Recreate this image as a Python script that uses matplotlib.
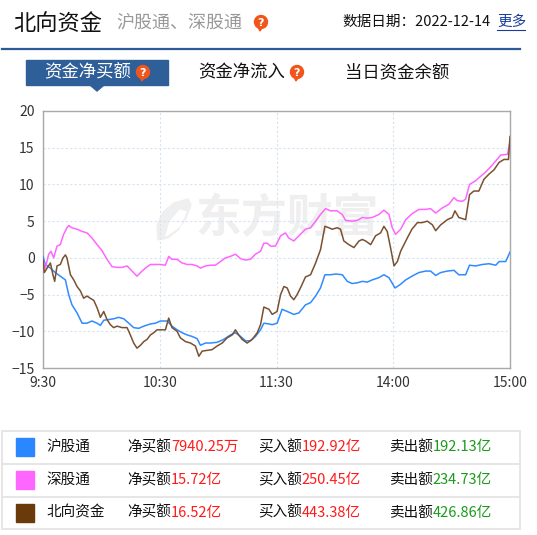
import matplotlib
matplotlib.use("Agg")
import matplotlib.pyplot as plt
from matplotlib.patches import Rectangle, Circle, Polygon

plt.rcParams['font.family'] = ['Noto Sans CJK SC', 'DejaVu Sans']

# 分钟数（从 9:30 起的交易分钟）和净买额（亿元）
hgt_t = [0, 1.2, 3.8, 6.3, 8.9, 11.5, 13.2, 14.9, 17.5, 20.1, 22.6, 25.2, 27.8, 29.5, 31.2, 33.8,
         36.3, 38.9, 41.5, 44.1, 46.6, 49.2, 51.8, 55.2, 57.8, 60.3, 63.8, 66.3, 68.9, 71.5, 74.1,
         76.6, 79.2, 80.9, 83.5, 86.1, 89.5, 92.9, 96.3, 98.9, 101.5, 104.1, 106.6, 109.2, 111.8,
         113.5, 116.1, 117.8, 120.3, 122.9, 125.5, 128.9, 131.5, 134.9, 137.5, 140.1, 142.6, 144.9,
         147.8, 150.4, 153.8, 156.4, 158.9, 161.5, 164.1, 166.6, 169.2, 172.6, 175.2, 177.8, 180.9,
         183.8, 186.4, 189.6, 193.2, 196.6, 199.2, 201.8, 204.4, 207.8, 211.2, 213.7, 217.2, 219.2,
         222.3, 225.8, 229.2, 232.7, 234.4, 237.8, 240]
hgt_v = [0.2, -0.9, -1.4, -2.0, -2.5, -3.0, -5.0, -6.4, -7.5, -8.9, -8.9, -8.6, -8.9, -9.2, -8.5, -8.4,
         -8.3, -8.1, -8.3, -8.9, -9.5, -9.6, -9.3, -9.0, -8.9, -8.6, -8.6, -9.3, -9.8, -10.2, -10.5,
         -10.7, -11.0, -11.9, -11.6, -11.6, -11.5, -11.1, -10.5, -10.2, -10.7, -11.3, -11.3, -10.7, -9.8,
         -8.9, -9.0, -9.1, -8.9, -7.0, -7.3, -7.7, -7.5, -6.4, -6.1, -5.2, -4.1, -2.3,
         -2.3, -2.2, -2.3, -3.2, -3.5, -3.4, -3.2, -3.3, -3.0, -2.7, -2.3, -2.7, -4.1,
         -3.6, -3.0, -2.5, -2.0, -1.8, -1.8, -2.4, -2.0, -1.8, -1.7, -2.3, -2.3, -1.0,
         -1.1, -0.9, -0.8, -1.0, -0.5, -0.5, 0.79]

sgt_t = [0, 1.2, 2.9, 4.1, 5.5, 7.2, 8.9, 10.6, 12.3, 13.2, 14.9, 17.5, 20.1, 22.6, 25.2, 27.8, 30.3,
         32.9, 35.5, 38.1, 40.6, 43.2, 45.8, 48.3, 50.1, 52.6, 55.2, 57.8, 60.3, 62.9, 64.6, 66.3,
         68.9, 71.5, 74.1, 76.6, 79.2, 80.9, 83.5, 86.1, 88.6, 91.2, 93.8, 96.3, 98.9, 101.5, 104.1,
         106.6, 109.2, 111.8, 113.5, 115.2, 116.9, 119.5, 122.1, 124.6, 126.3, 128.9, 131.5, 134.9,
         137.5, 140.1, 142.6, 145.2, 147.8, 151.2, 153.8, 155.5, 158.9, 161.5, 164.1, 166.6, 169.2,
         172.6, 175.2, 177.8, 179.5, 181.2, 183.8, 186.4, 189.6, 193.2, 196.6, 199.2, 201.8, 205.2,
         208.6, 211.2, 212.9, 215.5, 217.2, 219.2, 222.3, 224.9, 227.5, 230.1, 232.7, 235.2, 238.7, 240]
sgt_v = [-0.3, -1.4, 0.5, 0.9, 0.0, 1.6, 1.8, 3.2, 4.1, 4.4, 4.1, 3.9, 3.6, 3.4, 2.7, 1.8, 1.0,
         -0.2, -1.2, -1.3, -1.3, -1.1, -1.8, -2.5, -2.0, -1.4, -0.9, -0.9, -0.9, -1.0, 0.2, -0.2,
         -0.2, -0.7, -0.9, -0.9, -1.1, -1.4, -1.1, -1.0, -1.0, -0.5, 0.0, 0.2, 0.5, -0.1, -0.3,
         -0.2, 0.5, 0.9, 2.0, 2.0, 1.6, 1.6, 3.0, 3.4, 2.7, 2.3, 3.0, 3.9,
         4.1, 5.0, 5.9, 6.7, 6.4, 6.4, 5.9, 5.1, 5.0, 5.1, 5.5, 5.4, 5.5,
         5.9, 6.5, 5.9, 4.1, 3.2, 3.9, 5.2, 6.0, 6.6, 6.6, 6.7, 6.1, 6.8,
         7.3, 8.2, 7.8, 7.7, 8.0, 10.0, 10.5, 11.1, 11.7, 12.4, 13.2, 14.0, 14.1, 15.72]

bx_t = [0, 0.7, 2.1, 3.8, 5.1, 6.0, 7.2, 8.9, 10.3, 11.5, 12.3, 14.1, 15.8, 17.5, 19.2, 20.9, 22.6,
        24.3, 26.1, 27.8, 29.5, 31.2, 32.9, 34.6, 36.3, 38.1, 40.6, 43.2, 44.9, 46.6, 48.3, 50.1,
        51.8, 53.5, 55.2, 56.9, 58.6, 60.3, 62.9, 64.6, 66.3, 68.9, 70.6, 73.2, 75.8, 78.3, 80.1,
        81.8, 84.3, 86.9, 89.5, 92.1, 94.6, 97.2, 98.9, 100.6, 102.3, 104.9, 107.5, 110.1, 111.8,
        113.5, 116.1, 117.8, 120.3, 122.1, 123.8, 125.5, 127.2, 128.9, 130.6, 132.3, 134.9, 137.5,
        140.1, 142.6, 144.9, 146.9, 148.6, 151.2, 152.9, 154.6, 157.2, 159.8, 162.4, 164.1, 165.8,
        168.4, 170.9, 173.5, 175.2, 176.9, 178.6, 180.4, 182.1, 183.8, 185.5, 187.2, 189.6, 192.4,
        194.9, 197.5, 200.1, 201.8, 204.4, 207.8, 210.3, 211.7, 213.7, 217.2, 219.2, 221.4, 224.0,
        226.6, 229.2, 231.8, 234.4, 236.9, 239.2, 240]
bx_v = [-0.3, -2.0, -1.4, -0.7, -2.3, -3.2, -1.1, -0.9, 0.0, 0.4, 0.0, -2.3, -3.0, -3.9, -4.5, -5.5, -5.2,
        -5.5, -5.8, -6.8, -8.1, -7.3, -8.4, -9.1, -9.5, -9.3, -9.5, -9.5, -10.5, -11.6, -12.3, -11.9,
        -11.4, -11.1, -10.5, -10.2, -9.8, -9.8, -9.8, -8.2, -9.5, -10.0, -10.9, -11.4, -11.6, -12.0, -13.4,
        -12.7, -12.6, -12.5, -12.0, -11.6, -10.9, -10.5, -9.8, -10.5, -11.1, -11.6, -11.1, -10.2, -9.1,
        -6.7, -7.0, -7.7, -7.3, -5.0, -3.9, -4.1, -5.2, -5.7, -5.0, -4.1, -2.6, -2.3,
        -0.7, 1.1, 4.3, 4.1, 3.9, 4.1, 3.9, 2.3, 1.8, 1.4, 2.3, 2.5, 2.3,
        1.8, 3.0, 3.4, 4.3, 3.6, 1.4, -1.1, -0.5, 0.9, 1.8, 2.7, 3.9, 4.8,
        4.8, 5.0, 4.5, 3.7, 4.5, 5.2, 5.5, 6.4, 5.5, 5.2, 8.6, 9.1, 9.1,
        10.7, 11.4, 12.0, 13.0, 13.4, 13.4, 16.52]

tick_pos = [0, 60, 120, 180, 240]
tick_labels = ['9:30', '10:30', '11:30', '14:00', '15:00']

names = ['沪股通', '深股通', '北向资金']
colors = ['#2a87ff', '#ff66ff', '#6b3a0b']
line_colors = ['#2f8bff', '#ff66ff', '#7a5030']
net_buy = ['7940.25万', '15.72亿', '16.52亿']
buy_in = ['192.92亿', '250.45亿', '443.38亿']
sell_out = ['192.13亿', '234.73亿', '426.86亿']

W, H = 537, 535
fig = plt.figure(figsize=(W / 100, H / 100), dpi=100)

# 背景层，用像素坐标画表头和表格
bg = fig.add_axes([0, 0, 1, 1])
bg.set_xlim(0, W)
bg.set_ylim(H, 0)
bg.axis('off')


def qicon(x, y):
    bg.add_patch(Polygon([[x - 4, y + 3], [x - 1, y + 9], [x + 2, y + 4]], closed=True,
                         color='#f0561c', zorder=3))
    bg.add_patch(Circle((x, y), 6.5, color='#f0561c', zorder=3))
    bg.text(x, y + 0.5, '?', color='white', fontsize=8, fontweight='bold',
            ha='center', va='center', family='DejaVu Sans', zorder=4)


# 标题
bg.text(13, 23, '北向资金', fontsize=16, color='#111111', va='center')
bg.text(116, 23, '沪股通、深股通', fontsize=13, color='#999999', va='center')
qicon(261, 22)
bg.text(342, 22, '数据日期：2022-12-14', fontsize=10.5, color='#111111', va='center')
bg.text(497, 22, '更多', fontsize=10.5, color='#1a3d9c', va='center')
bg.plot([497, 525], [30, 30], color='#1a3d9c', lw=0.8)
bg.plot([2, 520], [49, 49], color='#2c5a98', lw=1.6)

# 标签页
bg.add_patch(Rectangle((26, 60), 142, 25, color='#2f5f98', zorder=2))
bg.add_patch(Polygon([[90, 85], [104, 85], [97, 91]], closed=True, color='#2f5f98', zorder=2))
bg.text(44, 72.5, '资金净买额', fontsize=12.5, color='white', va='center', zorder=3)
qicon(143, 72)
bg.text(198, 72.5, '资金净流入', fontsize=12.5, color='#111111', va='center')
qicon(297, 72)
bg.text(345, 72.5, '当日资金余额', fontsize=12.5, color='#111111', va='center')

# 水印
bg.add_patch(Polygon([[158, 240], [157, 225], [163, 212], [174, 203], [188, 199], [191, 205],
                      [186, 218], [178, 230], [168, 238]], closed=True, color='#efefef', zorder=0))
bg.add_patch(Polygon([[166, 236], [170, 222], [180, 210], [186, 212], [180, 226]], closed=True,
                     color='white', zorder=0))
bg.text(287, 219, '东方财富', fontsize=33, fontweight='bold', color='#efefef',
        ha='center', va='center', zorder=0)

# 图表
left, right, top, bottom = 43, 510, 111, 368
ax = fig.add_axes([left / W, (H - bottom) / H, (right - left) / W, (bottom - top) / H])
ax.set_facecolor('none')

for t, v, c in zip([hgt_t, sgt_t, bx_t], [hgt_v, sgt_v, bx_v], line_colors):
    ax.plot(t, v, color=c, lw=1.1, zorder=3)

ax.set_xlim(0, 240)
ax.set_ylim(-15, 20)
ax.set_yticks(range(-15, 21, 5))
ax.set_xticks(tick_pos)
ax.set_xticklabels(tick_labels)
for y in range(-10, 20, 5):
    ax.axhline(y, color='#d5e3f2', lw=0.8, ls=(0, (2, 2)), zorder=1)
for x in tick_pos[1:-1]:
    ax.axvline(x, color='#d5e3f2', lw=0.8, ls=(0, (2, 2)), zorder=1)
ax.tick_params(length=0, labelsize=10, colors='#333333', pad=6)
for s in ax.spines.values():
    s.set_color('#a8a8a8')
    s.set_linewidth(1)

# 底部表格
bg.add_patch(Rectangle((2, 431), 518, 98, fill=False, ec='#e2e2e2', lw=1.2))
bg.plot([3, 519], [463.5, 463.5], color='#e2e2e2', lw=1.2)
bg.plot([3, 519], [496.5, 496.5], color='#e2e2e2', lw=1.2)
row_y = [447, 480, 512.5]
for i in range(3):
    y = row_y[i]
    bg.add_patch(Rectangle((16, y - 9), 18, 18, color=colors[i]))
    bg.text(46, y, names[i], fontsize=10.5, color='#111111', va='center')
    for x, lab, val, vc in [(127, '净买额', net_buy[i], '#ff1a1a'),
                            (258, '买入额', buy_in[i], '#ff1a1a'),
                            (389, '卖出额', sell_out[i], '#1a9a1a')]:
        t = bg.text(x, y, lab, fontsize=10.5, color='#111111', va='center')
        bg.annotate(val, xy=(1, 0.5), xycoords=t, fontsize=10.5, color=vc,
                    va='center', ha='left')

fig.savefig('out.png', dpi=100)
